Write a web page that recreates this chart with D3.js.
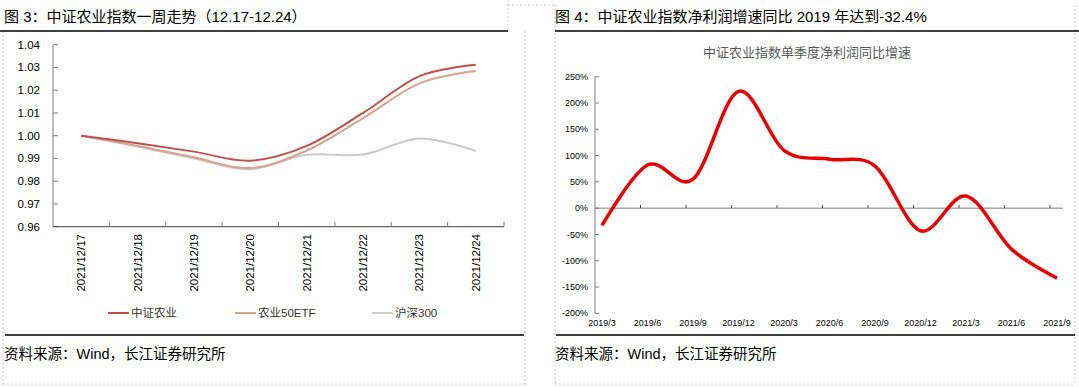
<!DOCTYPE html>
<html>
<head>
<meta charset="utf-8">
<script src="https://cdn.jsdelivr.net/npm/d3@7"></script>
<style>
  body { margin: 0; background: #fff; }
  svg { display: block; font-family: "Liberation Sans", Arial, "Noto Sans CJK SC", sans-serif; }
</style>
</head>
<body>
<div id="chart"></div>
<script>
// Fig 3 data: one week of index levels (normalised)
const weekDates = ["2021/12/17", "2021/12/18", "2021/12/19", "2021/12/20", "2021/12/21", "2021/12/22", "2021/12/23", "2021/12/24"];
const zzAgri = [1.000, 0.9967, 0.9930, 0.9890, 0.9955, 1.0100, 1.0262, 1.0312];
const agriEtf = [1.000, 0.9955, 0.9905, 0.9858, 0.9935, 1.0077, 1.0230, 1.0284];
const hs300 = [1.000, 0.9952, 0.9900, 0.9852, 0.9916, 0.9917, 0.9988, 0.9933];
const leftTicks = [0.96, 0.97, 0.98, 0.99, 1.00, 1.01, 1.02, 1.03, 1.04];

// Fig 4 data: quarterly net profit YoY growth (%)
const quarters = ["2019/3", "2019/6", "2019/9", "2019/12", "2020/3", "2020/6", "2020/9", "2020/12", "2021/3", "2021/6", "2021/9"];
const profitYoY = [-33, 82, 55, 222, 110, 93, 80, -43, 23, -78, -133];
const rightTicks = [-200, -150, -100, -50, 0, 50, 100, 150, 200, 250];

const width = 1079, height = 387;
const svg = d3.select("#chart").append("svg").attr("width", width).attr("height", height);
svg.append("rect").attr("width", width).attr("height", height).attr("fill", "#fff");

// frame lines (dashed cell borders + black rules)
const dashed = [
  [3, 31, 3, 385], [508, 0, 508, 31], [508, 5, 555, 5], [525, 31, 525, 385],
  [555, 5, 555, 385], [1075, 5, 1075, 385], [3, 384, 525, 384], [555, 384, 1075, 384]
];
svg.selectAll("line.frame").data(dashed).enter().append("line")
  .attr("x1", d => d[0]).attr("y1", d => d[1]).attr("x2", d => d[2]).attr("y2", d => d[3])
  .attr("stroke", "#c8c8c8").attr("stroke-dasharray", "2,2").attr("stroke-width", 1);
const rules = [[0, 31, 508], [555, 31, 1079], [5, 335, 524], [556, 335, 1075]];
svg.selectAll("line.rule").data(rules).enter().append("line")
  .attr("x1", d => d[0]).attr("x2", d => d[2]).attr("y1", d => d[1]).attr("y2", d => d[1])
  .attr("stroke", "#000").attr("stroke-width", 1.5);

// titles and sources
svg.append("text").attr("x", 4).attr("y", 22).attr("font-size", 15).attr("fill", "#000")
  .text("图 3：中证农业指数一周走势（12.17-12.24）");
svg.append("text").attr("x", 555).attr("y", 22).attr("font-size", 15).attr("fill", "#000")
  .text("图 4：中证农业指数净利润增速同比 2019 年达到-32.4%");
svg.append("text").attr("x", 4).attr("y", 359).attr("font-size", 14.5).attr("fill", "#000")
  .text("资料来源：Wind，长江证券研究所");
svg.append("text").attr("x", 555).attr("y", 359).attr("font-size", 14.5).attr("fill", "#000")
  .text("资料来源：Wind，长江证券研究所");

// ---------- Left chart ----------
const axisColor = "#7f7f7f";
const xL = d3.scaleBand().domain(weekDates).range([53, 504]);
const yL = d3.scaleLinear().domain([0.96, 1.04]).range([226.7, 44.7]);
const left = svg.append("g");

left.append("line").attr("x1", 53).attr("x2", 53).attr("y1", yL(1.04)).attr("y2", yL(0.96))
  .attr("stroke", axisColor);
left.selectAll("line.ytick").data(leftTicks).enter().append("line")
  .attr("x1", 53).attr("x2", 58).attr("y1", d => yL(d)).attr("y2", d => yL(d)).attr("stroke", axisColor);
left.selectAll("text.ylab").data(leftTicks).enter().append("text")
  .attr("x", 40).attr("y", d => yL(d)).attr("dy", "0.35em").attr("text-anchor", "end")
  .attr("font-size", 11.5).attr("fill", "#000").text(d => d.toFixed(2));

left.append("line").attr("x1", 53).attr("x2", 504).attr("y1", yL(0.96)).attr("y2", yL(0.96))
  .attr("stroke", "#404040");
left.selectAll("line.xtick").data(weekDates).enter().append("line")
  .attr("x1", d => xL(d) + xL.bandwidth()).attr("x2", d => xL(d) + xL.bandwidth())
  .attr("y1", yL(0.96)).attr("y2", yL(0.96) - 5).attr("stroke", axisColor);
left.selectAll("text.xlab").data(weekDates).enter().append("text")
  .attr("transform", d => `translate(${xL(d) + xL.bandwidth() / 2},234) rotate(-90)`)
  .attr("dy", "0.35em").attr("text-anchor", "end").attr("font-size", 11.5).attr("fill", "#000")
  .text(d => d);

const lineL = d3.line()
  .x((d, i) => xL(weekDates[i]) + xL.bandwidth() / 2)
  .y(d => yL(d))
  .curve(d3.curveCardinal.tension(0));

const leftSeries = [
  { name: "沪深300", values: hs300, color: "#cbcbcb" },
  { name: "农业50ETF", values: agriEtf, color: "#d6a393" },
  { name: "中证农业", values: zzAgri, color: "#c0504d" }
];
left.selectAll("path.series").data(leftSeries).enter().append("path")
  .attr("d", d => lineL(d.values)).attr("fill", "none")
  .attr("stroke", d => d.color).attr("stroke-width", 2);

// legend
const legendItems = [
  { name: "中证农业", color: "#c0504d", x: 108 },
  { name: "农业50ETF", color: "#d6a393", x: 235 },
  { name: "沪深300", color: "#cbcbcb", x: 372 }
];
const lg = left.selectAll("g.legend").data(legendItems).enter().append("g")
  .attr("transform", d => `translate(${d.x},313)`);
lg.append("line").attr("x1", 0).attr("x2", 21).attr("stroke", d => d.color).attr("stroke-width", 2);
lg.append("text").attr("x", 23).attr("dy", "0.35em").attr("font-size", 11.5).attr("fill", "#333")
  .text(d => d.name);

// ---------- Right chart ----------
const xR = d3.scalePoint().domain(quarters).range([602, 1057]);
const yR = d3.scaleLinear().domain([-200, 250]).range([313.3, 76.7]);
const right = svg.append("g");
const axisStart = 595, axisEnd = 1063;

right.append("text").attr("x", 807).attr("y", 52).attr("dy", "0.35em").attr("text-anchor", "middle")
  .attr("font-size", 13).attr("fill", "#595959").text("中证农业指数单季度净利润同比增速");

right.append("line").attr("x1", axisStart).attr("x2", axisStart).attr("y1", yR(250)).attr("y2", yR(-200))
  .attr("stroke", axisColor);
right.selectAll("line.ytick").data(rightTicks).enter().append("line")
  .attr("x1", axisStart).attr("x2", axisStart + 4).attr("y1", d => yR(d)).attr("y2", d => yR(d))
  .attr("stroke", axisColor);
right.selectAll("text.ylab").data(rightTicks).enter().append("text")
  .attr("x", 588).attr("y", d => yR(d)).attr("dy", "0.35em").attr("text-anchor", "end")
  .attr("font-size", 9).attr("fill", "#000").text(d => d + "%");

right.append("line").attr("x1", axisStart).attr("x2", axisEnd).attr("y1", yR(0)).attr("y2", yR(0))
  .attr("stroke", axisColor);
right.selectAll("line.xtick").data(d3.range(1, quarters.length)).enter().append("line")
  .attr("x1", k => axisStart + k * xR.step()).attr("x2", k => axisStart + k * xR.step())
  .attr("y1", yR(0)).attr("y2", yR(0) - 3).attr("stroke", "#404040");
right.selectAll("text.xlab").data(quarters).enter().append("text")
  .attr("x", d => xR(d)).attr("y", 323).attr("dy", "0.35em").attr("text-anchor", "middle")
  .attr("font-size", 9).attr("fill", "#000").text(d => d);

const lineR = d3.line()
  .x((d, i) => xR(quarters[i]))
  .y(d => yR(d))
  .curve(d3.curveCardinal.tension(0));
right.append("path").attr("d", lineR(profitYoY)).attr("fill", "none")
  .attr("stroke", "#e60000").attr("stroke-width", 3.5).attr("stroke-linejoin", "round");
</script>
</body>
</html>
